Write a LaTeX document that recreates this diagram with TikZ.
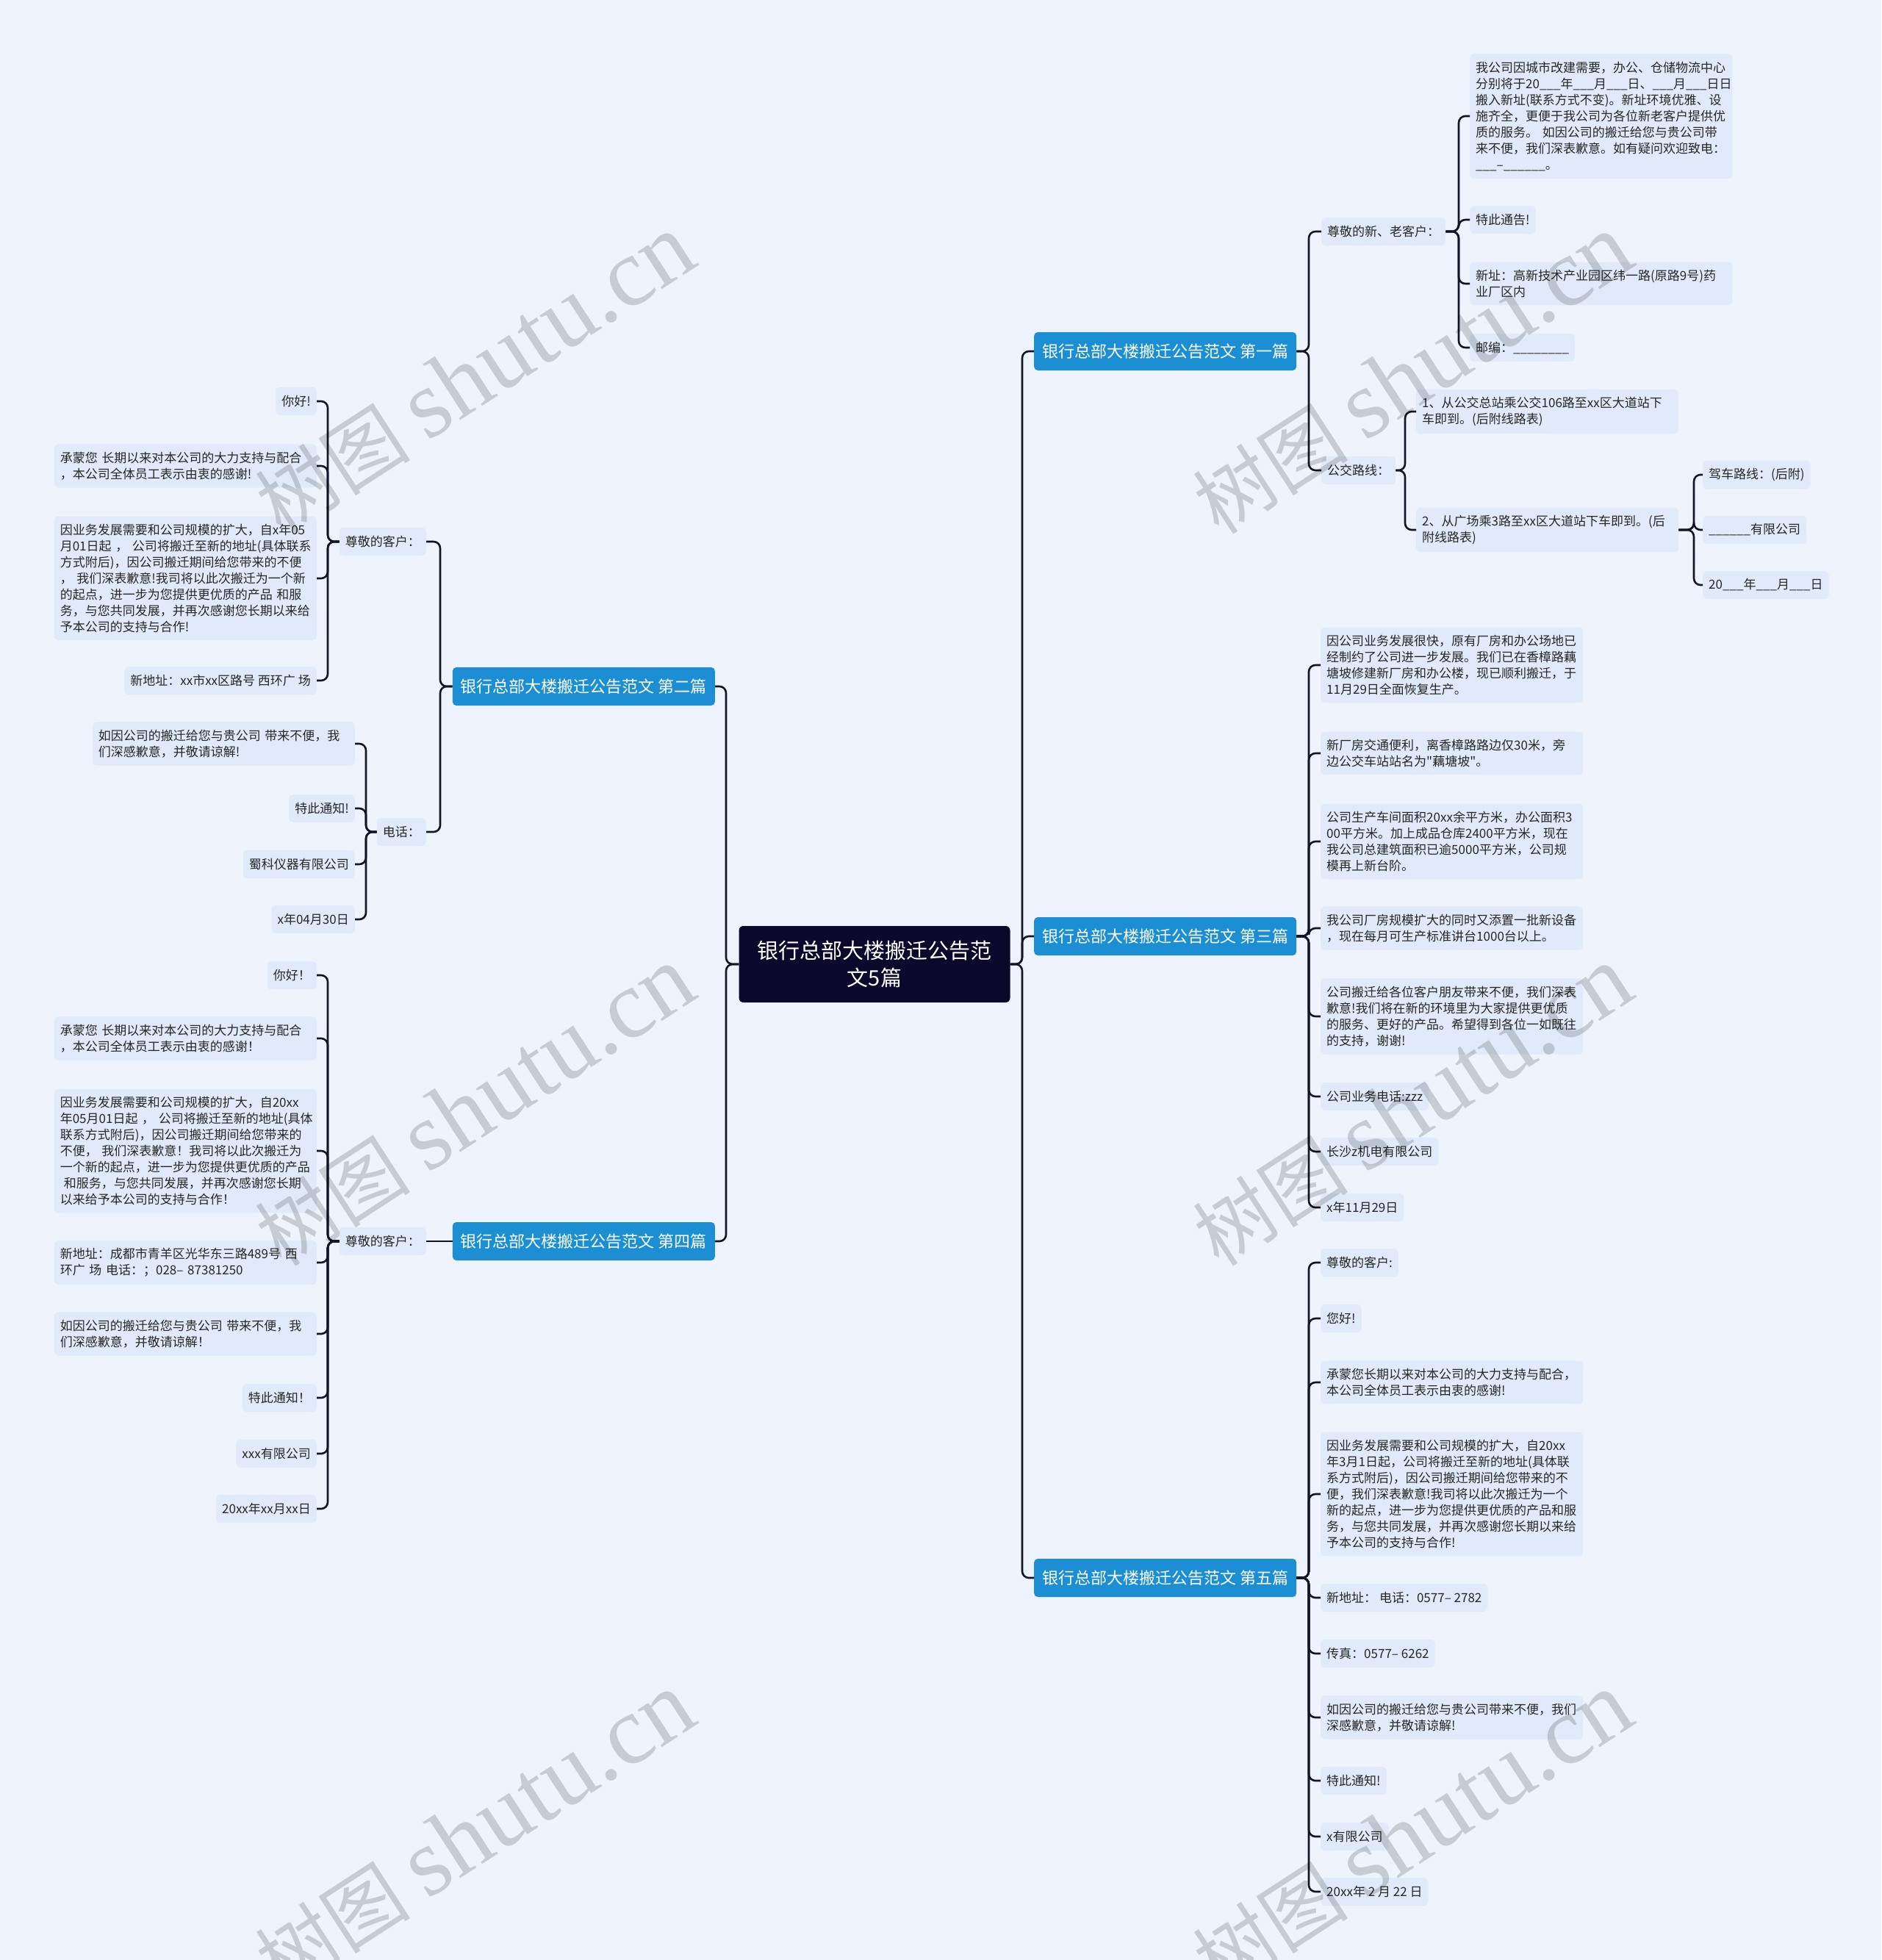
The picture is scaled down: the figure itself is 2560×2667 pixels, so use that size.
\documentclass[tikz,border=0pt]{standalone}
\usepackage{fontspec}
\setmainfont{Noto Sans CJK SC}
\newfontfamily\plainq{Noto Sans CJK SC}
\newfontfamily\wmlatin{Liberation Serif}
\definecolor{bgblue}{RGB}{238,243,253}
\definecolor{leaffill}{RGB}{225,234,250}
\definecolor{topicblue}{RGB}{27,142,212}
\definecolor{rootnavy}{RGB}{11,9,43}
\definecolor{linkcol}{RGB}{20,20,40}

\begin{document}
\begin{tikzpicture}[
  x=1pt, y=-1pt,
  root/.style={rounded corners=6pt, fill=rootnavy, text=white, text width=330pt, align=center, inner xsep=19.5pt, minimum height=104pt, font=\fontsize{29pt}{37pt}\selectfont},
  topic/.style={rounded corners=5pt, fill=topicblue, text=white, inner xsep=11pt, minimum height=52pt, font=\fontsize{22pt}{26pt}\selectfont},
  leaf/.style={rounded corners=6pt, fill=leaffill, text=black!85, inner xsep=8pt, inner ysep=10.5pt, minimum height=38pt, font=\fontsize{17pt}{22pt}\selectfont},
  para/.style={leaf, text width=341pt, align=left},
  link/.style={draw=linkcol, line width=2.6pt, rounded corners=9pt},
  wm/.style={text=black, text opacity=0.16, rotate=33, inner sep=0pt}
]
\useasboundingbox (0,0) rectangle (2560,2667);
\fill[bgblue] (0,0) rectangle (2560,2667);

\node[root] (root) at (1190,1312) {银行总部大楼搬迁公告范\\文5篇};
\node[topic, anchor=west] (t1) at (1407,478) {银行总部大楼搬迁公告范文 第一篇};
\node[topic, anchor=east] (t2) at (973,934) {银行总部大楼搬迁公告范文 第二篇};
\node[topic, anchor=west] (t3) at (1407,1274) {银行总部大楼搬迁公告范文 第三篇};
\node[topic, anchor=east] (t4) at (973,1689) {银行总部大楼搬迁公告范文 第四篇};
\node[topic, anchor=west] (t5) at (1407,2147) {银行总部大楼搬迁公告范文 第五篇};

\node[leaf, anchor=west] (k1) at (1798,315) {尊敬的新、老客户：};
\node[leaf, anchor=west] (bus) at (1798,640) {公交路线：};
\node[para, anchor=west] (k1a) at (2000,158) {我公司因城市改建需要，办公、仓储物流中心\\分别将于20\_\_\_年\_\_\_月\_\_\_日、\_\_\_月\_\_\_日日\\搬入新址(联系方式不变)。新址环境优雅、设\\施齐全，更便于我公司为各位新老客户提供优\\质的服务。~如因公司的搬迁给您与贵公司带\\来不便，我们深表歉意。如有疑问欢迎致电：\\\_\_\_–\_\_\_\_\_\_。};
\node[leaf, anchor=west] (k1b) at (2000,299) {特此通告!};
\node[para, anchor=west] (k1c) at (2000,386) {新址：高新技术产业园区纬一路(原路9号)药\\业厂区内};
\node[leaf, anchor=west] (k1d) at (2000,473) {邮编：\_\_\_\_\_\_\_\_};
\node[para, anchor=west] (bus1) at (1927,560) {1、从公交总站乘公交106路至xx区大道站下\\车即到。(后附线路表)};
\node[para, anchor=west] (bus2) at (1927,721) {2、从广场乘3路至xx区大道站下车即到。(后\\附线路表)};
\node[leaf, anchor=west] (drv) at (2317,646) {驾车路线：(后附)};
\node[leaf, anchor=west] (co1) at (2317,721) {\_\_\_\_\_\_有限公司};
\node[leaf, anchor=west] (date1) at (2317,796) {20\_\_\_年\_\_\_月\_\_\_日};

\node[para, anchor=west] (p3a) at (1797,905) {因公司业务发展很快，原有厂房和办公场地已\\经制约了公司进一步发展。我们已在香樟路藕\\塘坡修建新厂房和办公楼，现已顺利搬迁，于\\11月29日全面恢复生产。};
\node[para, anchor=west] (p3b) at (1797,1025) {新厂房交通便利，离香樟路路边仅30米，旁\\边公交车站站名为{\plainq"}藕塘坡{\plainq"}。};
\node[para, anchor=west] (p3c) at (1797,1145) {公司生产车间面积20xx余平方米，办公面积3\\00平方米。加上成品仓库2400平方米，现在\\我公司总建筑面积已逾5000平方米，公司规\\模再上新台阶。};
\node[para, anchor=west] (p3d) at (1797,1263) {我公司厂房规模扩大的同时又添置一批新设备\\，现在每月可生产标准讲台1000台以上。};
\node[para, anchor=west] (p3e) at (1797,1383) {公司搬迁给各位客户朋友带来不便，我们深表\\歉意!我们将在新的环境里为大家提供更优质\\的服务、更好的产品。希望得到各位一如既往\\的支持，谢谢!};
\node[leaf, anchor=west] (p3f) at (1797,1492) {公司业务电话:zzz};
\node[leaf, anchor=west] (p3g) at (1797,1567) {长沙z机电有限公司};
\node[leaf, anchor=west] (p3h) at (1797,1643) {x年11月29日};

\node[leaf, anchor=west] (p5a) at (1797,1718) {尊敬的客户:};
\node[leaf, anchor=west] (p5b) at (1797,1794) {您好!};
\node[para, anchor=west] (p5c) at (1797,1881) {承蒙您长期以来对本公司的大力支持与配合，\\本公司全体员工表示由衷的感谢!};
\node[para, anchor=west] (p5d) at (1797,2033) {因业务发展需要和公司规模的扩大，自20xx\\年3月1日起，公司将搬迁至新的地址(具体联\\系方式附后)，因公司搬迁期间给您带来的不\\便，我们深表歉意!我司将以此次搬迁为一个\\新的起点，进一步为您提供更优质的产品和服\\务，与您共同发展，并再次感谢您长期以来给\\予本公司的支持与合作!};
\node[leaf, anchor=west] (p5e) at (1797,2174) {新地址：\ 电话：0577– 2782};
\node[leaf, anchor=west] (p5f) at (1797,2250) {传真：0577– 6262};
\node[para, anchor=west] (p5g) at (1797,2337) {如因公司的搬迁给您与贵公司带来不便，我们\\深感歉意，并敬请谅解!};
\node[leaf, anchor=west] (p5h) at (1797,2423) {特此通知!};
\node[leaf, anchor=west] (p5i) at (1797,2499) {x有限公司};
\node[leaf, anchor=west] (p5j) at (1797,2574) {20xx年 2 月 22 日};

\node[leaf, anchor=east] (k2) at (580,737) {尊敬的客户：};
\node[leaf, anchor=east] (tel) at (580,1132) {电话：};
\node[leaf, anchor=east] (k2a) at (431,546) {你好!};
\node[para, anchor=east] (k2b) at (431,634) {承蒙您~长期以来对本公司的大力支持与配合\\，本公司全体员工表示由衷的感谢!};
\node[para, anchor=east] (k2c) at (431,787) {因业务发展需要和公司规模的扩大，自x年05\\月01日起~，~公司将搬迁至新的地址(具体联系\\方式附后)，因公司搬迁期间给您带来的不便\\，~我们深表歉意!我司将以此次搬迁为一个新\\的起点，进一步为您提供更优质的产品~和服\\务，与您共同发展，并再次感谢您长期以来给\\予本公司的支持与合作!};
\node[leaf, anchor=east] (k2d) at (431,926) {新地址：xx市xx区路号 西环广 场};
\node[para, anchor=east] (tel1) at (483,1012) {如因公司的搬迁给您与贵公司~带来不便，我\\们深感歉意，并敬请谅解!};
\node[leaf, anchor=east] (tel2) at (483,1100) {特此通知!};
\node[leaf, anchor=east] (tel3) at (483,1176) {蜀科仪器有限公司};
\node[leaf, anchor=east] (tel4) at (483,1251) {x年04月30日};

\node[leaf, anchor=east] (k4) at (580,1689) {尊敬的客户：};
\node[leaf, anchor=east] (k4a) at (431,1327) {你好！};
\node[para, anchor=east] (k4b) at (431,1413) {承蒙您~长期以来对本公司的大力支持与配合\\，本公司全体员工表示由衷的感谢！};
\node[para, anchor=east] (k4c) at (431,1566) {因业务发展需要和公司规模的扩大，自20xx\\年05月01日起~，~公司将搬迁至新的地址(具体\\联系方式附后)，因公司搬迁期间给您带来的\\不便，~我们深表歉意！我司将以此次搬迁为\\一个新的起点，进一步为您提供更优质的产品\\\hspace*{5pt}和服务，与您共同发展，并再次感谢您长期\\以来给予本公司的支持与合作！};
\node[para, anchor=east] (k4d) at (431,1718) {新地址：成都市青羊区光华东三路489号~西\\环广~场~电话：；028–~87381250};
\node[para, anchor=east] (k4e) at (431,1815) {如因公司的搬迁给您与贵公司~带来不便，我\\们深感歉意，并敬请谅解！};
\node[leaf, anchor=east] (k4f) at (431,1902) {特此通知！};
\node[leaf, anchor=east] (k4g) at (431,1978) {xxx有限公司};
\node[leaf, anchor=east] (k4h) at (431,2053) {20xx年xx月xx日};

\draw[link] (t1.west) -- ++(-16,0) |- (root.east); \draw[link] (t3.west) -- ++(-16,0) |- (root.east);
\draw[link] (t5.west) -- ++(-16,0) |- (root.east);
\draw[link] (t2.east) -- ++(15,0) |- (root.west); \draw[link] (t4.east) -- ++(15,0) |- (root.west);

\draw[link] (k1.west) -- ++(-17,0) |- (t1.east); \draw[link] (bus.west) -- ++(-17,0) |- (t1.east);
\draw[link] (k1a.west) -- ++(-15,0) |- (k1.east); \draw[link] (k1b.west) -- ++(-15,0) |- (k1.east);
\draw[link] (k1c.west) -- ++(-15,0) |- (k1.east); \draw[link] (k1d.west) -- ++(-15,0) |- (k1.east);
\draw[link] (bus1.west) -- ++(-15,0) |- (bus.east); \draw[link] (bus2.west) -- ++(-15,0) |- (bus.east);
\draw[link] (drv.west) -- ++(-12,0) |- (bus2.east); \draw[link] (co1.west) -- ++(-12,0) |- (bus2.east);
\draw[link] (date1.west) -- ++(-12,0) |- (bus2.east);

\draw[link] (p3a.west) -- ++(-16,0) |- (t3.east); \draw[link] (p3b.west) -- ++(-16,0) |- (t3.east);
\draw[link] (p3c.west) -- ++(-16,0) |- (t3.east); \draw[link] (p3d.west) -- ++(-16,0) |- (t3.east);
\draw[link] (p3e.west) -- ++(-16,0) |- (t3.east); \draw[link] (p3f.west) -- ++(-16,0) |- (t3.east);
\draw[link] (p3g.west) -- ++(-16,0) |- (t3.east); \draw[link] (p3h.west) -- ++(-16,0) |- (t3.east);

\draw[link] (p5a.west) -- ++(-16,0) |- (t5.east); \draw[link] (p5b.west) -- ++(-16,0) |- (t5.east);
\draw[link] (p5c.west) -- ++(-16,0) |- (t5.east); \draw[link] (p5d.west) -- ++(-16,0) |- (t5.east);
\draw[link] (p5e.west) -- ++(-16,0) |- (t5.east); \draw[link] (p5f.west) -- ++(-16,0) |- (t5.east);
\draw[link] (p5g.west) -- ++(-16,0) |- (t5.east); \draw[link] (p5h.west) -- ++(-16,0) |- (t5.east);
\draw[link] (p5i.west) -- ++(-16,0) |- (t5.east); \draw[link] (p5j.west) -- ++(-16,0) |- (t5.east);

\draw[link] (k2.east) -- ++(19,0) |- (t2.west); \draw[link] (tel.east) -- ++(19,0) |- (t2.west);
\draw[link] (k2a.east) -- ++(15,0) |- (k2.west); \draw[link] (k2b.east) -- ++(15,0) |- (k2.west);
\draw[link] (k2c.east) -- ++(15,0) |- (k2.west); \draw[link] (k2d.east) -- ++(15,0) |- (k2.west);
\draw[link] (tel1.east) -- ++(15,0) |- (tel.west); \draw[link] (tel2.east) -- ++(15,0) |- (tel.west);
\draw[link] (tel3.east) -- ++(15,0) |- (tel.west); \draw[link] (tel4.east) -- ++(15,0) |- (tel.west);

\draw[link] (k4.east) -- (t4.west);
\draw[link] (k4a.east) -- ++(15,0) |- (k4.west); \draw[link] (k4b.east) -- ++(15,0) |- (k4.west);
\draw[link] (k4c.east) -- ++(15,0) |- (k4.west); \draw[link] (k4d.east) -- ++(15,0) |- (k4.west);
\draw[link] (k4e.east) -- ++(15,0) |- (k4.west); \draw[link] (k4f.east) -- ++(15,0) |- (k4.west);
\draw[link] (k4g.east) -- ++(15,0) |- (k4.west); \draw[link] (k4h.east) -- ++(15,0) |- (k4.west);

\node[wm] (wm1) at (646,510) {\fontsize{106pt}{106pt}\selectfont 树图 {\wmlatin\fontsize{132pt}{132pt}\selectfont shutu.cn}};
\node[wm] (wm2) at (1922,510) {\fontsize{106pt}{106pt}\selectfont 树图 {\wmlatin\fontsize{132pt}{132pt}\selectfont shutu.cn}};
\node[wm] (wm3) at (646,1506) {\fontsize{106pt}{106pt}\selectfont 树图 {\wmlatin\fontsize{132pt}{132pt}\selectfont shutu.cn}};
\node[wm] (wm4) at (1922,1506) {\fontsize{106pt}{106pt}\selectfont 树图 {\wmlatin\fontsize{132pt}{132pt}\selectfont shutu.cn}};
\node[wm] (wm5) at (646,2494) {\fontsize{106pt}{106pt}\selectfont 树图 {\wmlatin\fontsize{132pt}{132pt}\selectfont shutu.cn}};
\node[wm] (wm6) at (1922,2494) {\fontsize{106pt}{106pt}\selectfont 树图 {\wmlatin\fontsize{132pt}{132pt}\selectfont shutu.cn}};
\end{tikzpicture}
\end{document}
